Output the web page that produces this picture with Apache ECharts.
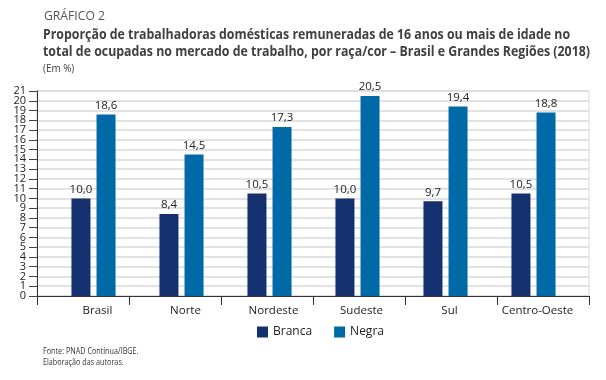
<!DOCTYPE html>
<html>
<head>
<meta charset="utf-8">
<script src="https://cdn.jsdelivr.net/npm/echarts@6/dist/echarts.min.js"></script>
<style>
html,body{margin:0;padding:0;background:#fff;}
#chart{width:606px;height:380px;}
</style>
</head>
<body>
<div id="chart"></div>
<script>
const categories = ['Brasil', 'Norte', 'Nordeste', 'Sudeste', 'Sul', 'Centro-Oeste'];
const branca = [10.0, 8.4, 10.5, 10.0, 9.7, 10.5];
const negra = [18.6, 14.5, 17.3, 20.5, 19.4, 18.8];
const seriesNames = ['Branca', 'Negra'];
const yMin = 0, yMax = 21, yStep = 1;

const titleLines = [
  'Proporção de trabalhadoras domésticas remuneradas de 16 anos ou mais de idade no',
  'total de ocupadas no mercado de trabalho, por raça/cor – Brasil e Grandes Regiões (2018)'
];

const FONT = '"Open Sans", sans-serif';
const ctx = document.createElement('canvas').getContext('2d');
function fitScale(text, font, target) {
  ctx.font = font;
  return target / ctx.measureText(text).width;
}
const titleFont = 'bold 14px ' + FONT;
const tScale = fitScale(titleLines[1], titleFont, 547);
const gFont = '12.5px ' + FONT;
const gScale = fitScale('GRÁFICO 2', gFont, 61);

const chart = echarts.init(document.getElementById('chart'), null, {renderer: 'canvas'});
const fmt = p => p.value.toFixed(1).replace('.', ',');
const yLabelStyle = {fontFamily: FONT, fontSize: 11, color: '#222', margin: 11, showMinLabel: true, showMaxLabel: true, hideOverlap: false};

chart.setOption({
  animation: false,
  textStyle: {fontFamily: FONT},
  legend: {
    data: seriesNames, left: 257, top: 326, itemWidth: 11, itemHeight: 11, itemGap: 22, padding: 0,
    icon: 'rect', textStyle: {fontFamily: FONT, fontSize: 12, color: '#222'}
  },
  grid: [
    {left: 37, right: 17, top: 91, bottom: 84, show: true, borderColor: '#d9d9d9', borderWidth: 1},
    {left: 49.5, right: 28.5, top: 91, bottom: 84}
  ],
  xAxis: [
    {type: 'category', gridIndex: 0, data: categories, boundaryGap: true,
     axisLine: {lineStyle: {color: '#333', width: 1}},
     axisTick: {show: true, interval: 0, length: 9, lineStyle: {color: '#333'}},
     axisLabel: {show: false}},
    {type: 'category', gridIndex: 1, data: categories,
     axisLine: {show: false}, axisTick: {show: false},
     axisLabel: {interval: 0, fontFamily: FONT, fontSize: 11.5, color: '#222', margin: 9, padding: [0, 0, 0, 8]}}
  ],
  yAxis: [
    {type: 'value', gridIndex: 0, min: yMin, max: yMax, interval: yStep, position: 'left',
     axisLine: {show: true, lineStyle: {color: '#333'}},
     axisTick: {show: true, length: 8, lineStyle: {color: '#444'}},
     axisLabel: Object.assign({}, yLabelStyle, {formatter: v => (v % 2 === 0 ? String(v) : '')}),
     splitLine: {lineStyle: {color: '#d9d9d9', width: 1.5}}},
    {type: 'value', gridIndex: 0, min: yMin, max: yMax, interval: yStep, position: 'left', offset: 0,
     axisLine: {show: false}, axisTick: {show: false}, splitLine: {show: false},
     axisLabel: Object.assign({}, yLabelStyle, {formatter: v => (v % 2 === 1 ? String(v) : '')})},
    {type: 'value', gridIndex: 1, min: yMin, max: yMax, show: false}
  ],
  series: [
    {name: seriesNames[0], type: 'bar', xAxisIndex: 1, yAxisIndex: 2, data: branca,
     barWidth: 19, barGap: '32%', itemStyle: {color: '#15306f'},
     label: {show: true, position: 'top', distance: 3, formatter: fmt, fontFamily: FONT, fontSize: 11.5, color: '#222'}},
    {name: seriesNames[1], type: 'bar', xAxisIndex: 1, yAxisIndex: 2, data: negra,
     barWidth: 19, barGap: '32%', itemStyle: {color: '#0069a6'},
     label: {show: true, position: 'top', distance: 3, formatter: fmt, fontFamily: FONT, fontSize: 11.5, color: '#222'}}
  ],
  graphic: [
    {type: 'text', x: 44, y: 10, scaleX: gScale, originX: 0,
     style: {text: 'GRÁFICO 2', font: gFont, fill: '#555', textVerticalAlign: 'top'}},
    {type: 'text', x: 43, y: 27, scaleX: tScale, originX: 0,
     style: {text: titleLines.join('\n'), font: titleFont, fill: '#404040', lineHeight: 17, textVerticalAlign: 'top'}},
    {type: 'text', x: 43, y: 63, scaleX: 0.9, originX: 0,
     style: {text: '(Em %)', font: '11px ' + FONT, fill: '#404040', textVerticalAlign: 'top'}},
    {type: 'text', x: 43, y: 346, scaleX: 0.85, originX: 0,
     style: {text: 'Fonte: PNAD Contínua/IBGE.\nElaboração das autoras.', font: '8.5px ' + FONT, fill: '#333', lineHeight: 11, textVerticalAlign: 'top'}}
  ]
});
</script>
</body>
</html>
